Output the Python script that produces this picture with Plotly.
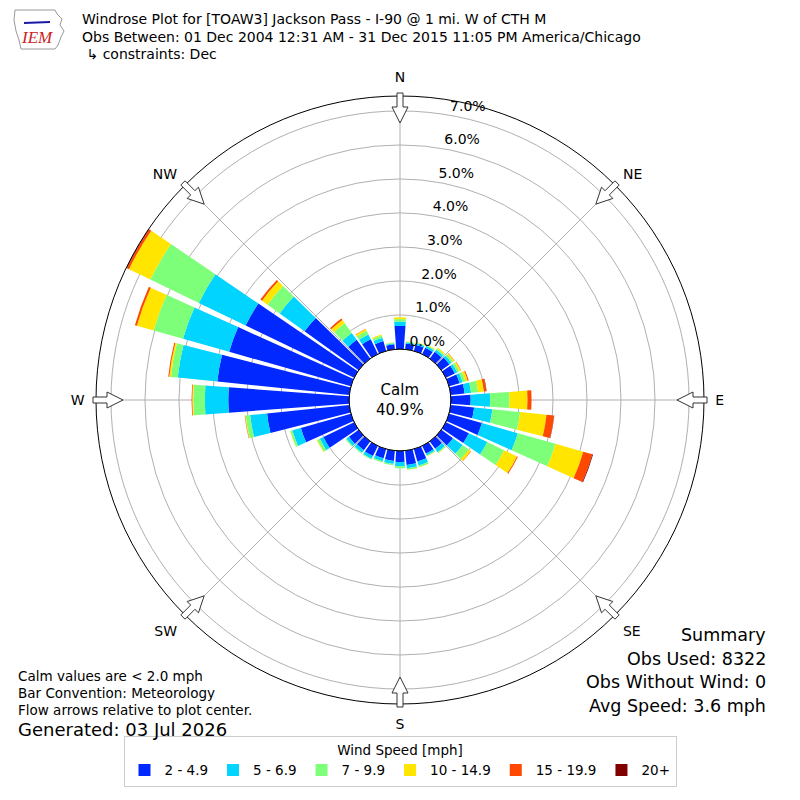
import math
import plotly.graph_objects as go

W, H = 800, 800

# направления (центры секторов, градусы от севера по часовой)
directions = list(range(0, 360, 10))
compass_vals = [0, 45, 90, 135, 180, 225, 270, 315]
compass_text = ["N", "NE", "E", "SE", "S", "SW", "W", "NW"]
radial_vals = [0, 1, 2, 3, 4, 5, 6, 7]
radial_text = ["0.0%", "1.0%", "2.0%", "3.0%", "4.0%", "5.0%", "6.0%", "7.0%"]

speed_bins = ["2 - 4.9", "5 - 6.9", "7 - 9.9", "10 - 14.9", "15 - 19.9", "20+"]
speed_colors = ["#0028ff", "#00d4ff", "#7dff7a", "#ffe500", "#ff4800", "#800000"]

# частота, % (по секторам 0..350)
pct_2_5 = [0.68, 0.17, 0.19, 0.21, 0.25, 0.29, 0.29, 0.32, 0.41, 0.58, 0.69, 1.00,
           0.75, 0.42, 0.27, 0.25, 0.38, 0.42, 0.32, 0.30, 0.28, 0.33, 0.32, 0.35,
           1.00, 1.53, 2.43, 3.55, 3.90, 3.72, 3.54, 1.96, 0.68, 0.48, 0.30, 0.15]
pct_5_7 = [0.13, 0.04, 0.05, 0.06, 0.07, 0.08, 0.08, 0.09, 0.19, 0.57, 0.54, 1.10,
           0.60, 0.35, 0.12, 0.06, 0.12, 0.10, 0.13, 0.09, 0.09, 0.09, 0.09, 0.09,
           0.12, 0.26, 0.50, 0.69, 1.17, 1.41, 1.53, 0.90, 0.25, 0.16, 0.10, 0.03]
pct_7_10 = [0.07, 0.02, 0.02, 0.03, 0.05, 0.06, 0.07, 0.09, 0.21, 0.57, 0.82, 1.15,
            0.55, 0.22, 0.03, 0.02, 0.05, 0.04, 0.06, 0.04, 0.04, 0.03, 0.03, 0.03,
            0.08, 0.06, 0.13, 0.34, 0.20, 0.90, 1.58, 0.44, 0.35, 0.12, 0.07, 0.02]
pct_10_15 = [0.05, 0.01, 0.01, 0.02, 0.03, 0.04, 0.05, 0.07, 0.17, 0.53, 0.78, 0.85,
             0.42, 0.08, 0.01, 0.01, 0.01, 0.01, 0.00, 0.00, 0.00, 0.00, 0.00, 0.00,
             0.02, 0.01, 0.02, 0.03, 0.05, 0.51, 0.70, 0.20, 0.12, 0.06, 0.03, 0.01]
pct_15_20 = [0.00, 0.00, 0.00, 0.00, 0.00, 0.01, 0.01, 0.03, 0.07, 0.12, 0.22, 0.28,
             0.03, 0.01, 0.00, 0.00, 0.00, 0.00, 0.00, 0.00, 0.00, 0.00, 0.00, 0.00,
             0.00, 0.00, 0.01, 0.02, 0.03, 0.06, 0.07, 0.06, 0.05, 0.01, 0.00, 0.00]
pct_20_up = [0.00, 0.00, 0.00, 0.00, 0.00, 0.00, 0.00, 0.00, 0.01, 0.00, 0.01, 0.02,
             0.00, 0.00, 0.00, 0.00, 0.00, 0.00, 0.00, 0.00, 0.00, 0.00, 0.00, 0.00,
             0.00, 0.00, 0.00, 0.00, 0.00, 0.00, 0.02, 0.00, 0.00, 0.00, 0.00, 0.00]

speed_data = [pct_2_5, pct_5_7, pct_7_10, pct_10_15, pct_15_20, pct_20_up]

calm_pct = "40.9%"
title_lines = [
    "Windrose Plot for [TOAW3] Jackson Pass - I-90 @ 1 mi. W of CTH M",
    "Obs Between: 01 Dec 2004 12:31 AM - 31 Dec 2015 11:05 PM America/Chicago",
    " \u21b3 constraints: Dec",
]
notes = ["Calm values are < 2.0 mph", "Bar Convention: Meteorology",
         "Flow arrows relative to plot center."]
generated = "Generated: 03 Jul 2026"
summary = ["Summary", "Obs Used: 8322", "Obs Without Wind: 0", "Avg Speed: 3.6 mph"]

FONT = "DejaVu Sans"
CX, CY = 400, 400      # центр розы, px
R_OUT = 304            # внешний круг, px
R_CALM = 51            # круг штиля, px
R_MAX = 7.44           # предел радиальной оси, %
RAD_ANGLE = 80.2       # направление подписей радиальной оси (против часовой от востока)
LABEL_DX, LABEL_DY = -6.5, -12.5   # смещение слоя подписей (как у matplotlib), px


def to_paper(x, y):
    return x / W, 1 - y / H


def domain(cx, cy, r):
    x0, y1 = to_paper(cx - r, cy - r)
    x1, y0 = to_paper(cx + r, cy + r)
    return dict(x=[x0, x1], y=[y0, y1])


fig = go.Figure()

for name, vals, color in zip(speed_bins, speed_data, speed_colors):
    fig.add_trace(go.Barpolar(r=vals, theta=directions, width=8.5, name=name,
                              marker=dict(color=color, line=dict(width=0))))

# пустой слой только для подписей радиальной оси
fig.add_trace(go.Barpolar(r=[], theta=[], subplot="polar2", showlegend=False, hoverinfo="skip"))

fig.update_layout(
    width=W, height=H,
    margin=dict(l=0, r=0, t=0, b=0),
    paper_bgcolor="white",
    font=dict(family=FONT, size=14, color="black"),
    polar=dict(
        domain=domain(CX, CY, R_OUT),
        bgcolor="white",
        hole=R_CALM / R_OUT,
        barmode="stack",
        angularaxis=dict(rotation=90, direction="clockwise",
                         tickmode="array", tickvals=compass_vals, ticktext=compass_text,
                         showline=True, linecolor="black", linewidth=1,
                         showgrid=True, gridcolor="#b0b0b0", gridwidth=1,
                         ticks="outside", ticklen=8, tickcolor="rgba(0,0,0,0)",
                         tickfont=dict(size=14)),
        radialaxis=dict(range=[0, R_MAX], tickmode="array", tickvals=radial_vals,
                        showticklabels=False, showline=False, ticks="", showgrid=True,
                        gridcolor="#b0b0b0", gridwidth=1),
    ),
    polar2=dict(
        domain=domain(CX + LABEL_DX, CY + LABEL_DY, R_OUT),
        bgcolor="rgba(0,0,0,0)",
        hole=R_CALM / R_OUT,
        angularaxis=dict(rotation=90, direction="clockwise", visible=False),
        radialaxis=dict(range=[0, R_MAX], angle=RAD_ANGLE, side="clockwise",
                        tickangle=RAD_ANGLE, tickmode="array",
                        tickvals=radial_vals, ticktext=radial_text,
                        showline=False, ticks="", showgrid=False,
                        tickfont=dict(size=14)),
    ),
    legend=dict(orientation="h", x=0.5, xanchor="center", y=0.016, yanchor="bottom",
                title=dict(text="Wind Speed [mph]", side="top center", font=dict(size=13.5)),
                font=dict(size=13.5), bordercolor="#cccccc", borderwidth=1,
                itemwidth=30, bgcolor="white"),
)

shapes = []

# круг штиля
cx0, cy1 = to_paper(CX - R_CALM, CY - R_CALM)
cx1, cy0 = to_paper(CX + R_CALM, CY + R_CALM)
shapes.append(dict(type="circle", xref="paper", yref="paper", x0=cx0, y0=cy0, x1=cx1, y1=cy1,
                   line=dict(color="black", width=1.2), fillcolor="white", layer="below"))

# стрелки направлений потока
for b in compass_vals:
    a = math.radians(b)
    ux, uy = math.sin(a), -math.cos(a)
    nx, ny = math.cos(a), math.sin(a)
    pts = []
    for r, w in [(307, 3), (293, 3), (293, 8), (277, 0), (293, -8), (293, -3), (307, -3)]:
        pts.append(to_paper(CX + r * ux + w * nx, CY + r * uy + w * ny))
    path = "M " + " L ".join(f"{px:.5f},{py:.5f}" for px, py in pts) + " Z"
    shapes.append(dict(type="path", xref="paper", yref="paper", path=path,
                       fillcolor="white", line=dict(color="#333333", width=1), layer="above"))

# логотип IEM (контур Айовы)
iowa = [(15, 10), (55, 10), (57, 14), (62, 19), (60, 25), (64, 31), (61, 37), (58, 45),
        (55, 49), (21, 49), (19, 40), (16, 31), (14, 20)]
path = "M " + " L ".join("{:.5f},{:.5f}".format(*to_paper(x, y)) for x, y in iowa) + " Z"
shapes.append(dict(type="path", xref="paper", yref="paper", path=path,
                   line=dict(color="#999999", width=1)))
bx0, by0 = to_paper(24, 23)
bx1, by1 = to_paper(50, 22)
shapes.append(dict(type="line", xref="paper", yref="paper", x0=bx0, y0=by0, x1=bx1, y1=by1,
                   line=dict(color="#1a1aa6", width=2)))

fig.update_layout(shapes=shapes)

annotations = [
    dict(text="IEM", x=37 / W, y=1 - 38 / H, showarrow=False, xanchor="center", yanchor="middle",
         font=dict(family="Liberation Serif", size=17, color="#cc2222", style="italic")),
    dict(text="Calm<br>" + calm_pct, x=0.5, y=0.5, showarrow=False,
         xanchor="center", yanchor="middle", font=dict(size=15)),
]
for i, line in enumerate(title_lines):
    annotations.append(dict(text=line, x=80 / W, y=1 - (19 + 17.5 * i) / H, showarrow=False,
                            xanchor="left", yanchor="middle", font=dict(size=14)))
for i, line in enumerate(notes):
    annotations.append(dict(text=line, x=16 / W, y=1 - (676 + 17 * i) / H, showarrow=False,
                            xanchor="left", yanchor="middle", font=dict(size=13.5)))
annotations.append(dict(text=generated, x=16 / W, y=1 - 729 / H, showarrow=False,
                        xanchor="left", yanchor="middle", font=dict(size=18)))
for i, line in enumerate(summary):
    annotations.append(dict(text=line, x=768 / W, y=1 - (635 + 23.5 * i) / H, showarrow=False,
                            xanchor="right", yanchor="middle", font=dict(size=17.5)))
fig.update_layout(annotations=annotations)

# убрать отступ страницы, чтобы график стоял в углу окна
fig.write_html("out.html", config={"displayModeBar": False},
               post_script="document.body.style.margin='0';")
